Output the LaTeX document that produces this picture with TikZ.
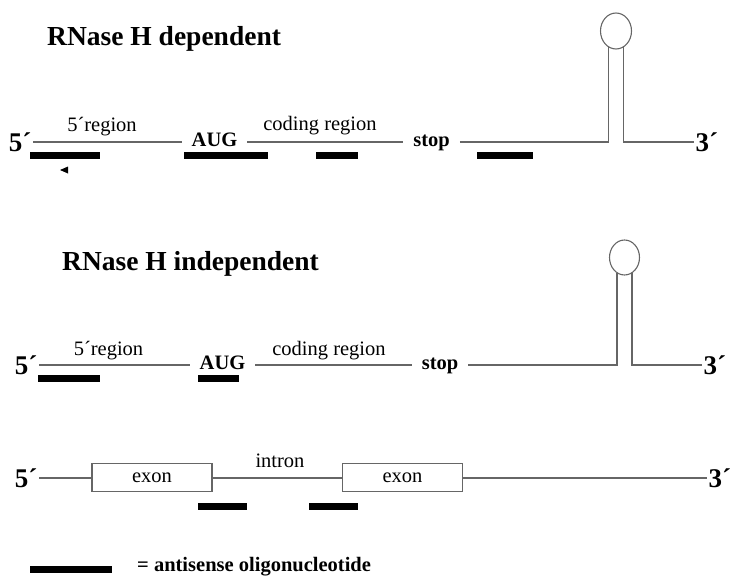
\documentclass[tikz,border=0pt]{standalone}
\usepackage{fontspec}
\setmainfont{Liberation Serif}
\usetikzlibrary{shapes}

\begin{document}
\begin{tikzpicture}[x=1pt,y=-1pt,
    strand/.style={draw=black!60, line width=1.1pt},
    oligo/.style={line width=7pt, line cap=butt},
    heading/.style={anchor=base west, inner sep=0pt, font=\fontsize{27.5}{30}\selectfont\bfseries},
    prime/.style={inner xsep=1.5pt, inner ysep=0pt, text height=19pt, text depth=0pt, font=\fontsize{27}{30}\selectfont\bfseries},
    site/.style={inner xsep=10pt, inner ysep=0pt, text height=14.5pt, text depth=5pt, font=\fontsize{20.5}{24}\selectfont\bfseries},
    region/.style={anchor=base, inner sep=0pt, font=\fontsize{20.5}{24}\selectfont},
    exonbox/.style={draw=black!60, line width=1.1pt, minimum width=120pt, minimum height=28pt, inner sep=0pt, font=\fontsize{20.5}{24}\selectfont},
    hairpin/.style={draw=black!60, line width=1.1pt, ellipse, inner sep=0pt}]
    \useasboundingbox (0,0) rectangle (735,575);

    % RNase H dependent mRNA
    \node[heading] (title1) at (47,46) {RNase H dependent};
    \node[prime, anchor=east] (five1) at (33,142) {5´};
    \node[site] (aug1) at (214.5,142) {AUG};
    \node[site] (stop1) at (431.5,142) {stop};
    \node[prime, anchor=west] (three1) at (694,142) {3´};
    \node[region] (reg1) at (102,131) {5´region};
    \node[region] (cod1) at (320,130) {coding region};
    \node[hairpin, minimum width=31pt, minimum height=36pt] (loop1) at (616,31) {};
    \coordinate (stem1a) at (608.5,47);
    \coordinate (stem1b) at (623.5,47);

    \draw[strand] (five1.east) -- (aug1.west);
    \draw[strand] (aug1.east) -- (stop1.west);
    \draw[strand] (stop1.east) -| (stem1a);
    \draw[strand] (stem1b) |- (three1.west);

    % oligos
    \draw[oligo] (30,155) -- (100,155);
    \draw[oligo] (184,155) -- (268,155);
    \draw[oligo] (316,155) -- (358,155);
    \draw[oligo] (477,155) -- (533,155);
    \fill (68,166.5) -- (60,170) -- (68,173.5) -- cycle;

    % RNase H independent mRNA
    \node[heading] (title2) at (62,270) {RNase H independent};
    \node[prime, anchor=east] (five2) at (39,365) {5´};
    \node[site] (aug2) at (222.5,365) {AUG};
    \node[site] (stop2) at (440,365) {stop};
    \node[prime, anchor=west] (three2) at (702,365) {3´};
    \node[region] (reg2) at (108.5,355) {5´region};
    \node[region] (cod2) at (329,355) {coding region};
    \node[hairpin, minimum width=30pt, minimum height=35pt] (loop2) at (624.5,257.5) {};
    \coordinate (stem2a) at (617,273);
    \coordinate (stem2b) at (632,273);

    \draw[strand] (five2.east) -- (aug2.west);
    \draw[strand] (aug2.east) -- (stop2.west);
    \draw[strand] (stop2.east) -| (stem2a);
    \draw[strand] (stem2b) |- (three2.west);

    \draw[oligo] (38,378) -- (100,378);
    \draw[oligo] (198,378) -- (239,378);

    % pre-mRNA with exons
    \node[prime, anchor=east] (five3) at (39,478) {5´};
    \node[exonbox] (exon1) at (152,477.5) {exon};
    \node[exonbox] (exon2) at (402.5,477.5) {exon};
    \node[prime, anchor=west] (three3) at (707,478) {3´};
    \node[region] (intron) at (280,467) {intron};

    \draw[strand] (five3.east) -- (five3.east -| exon1.west);
    \draw[strand] (exon1.east |- five3.east) -- (exon2.west |- five3.east);
    \draw[strand] (exon2.east |- five3.east) -- (three3.west);

    \draw[oligo] (198,506) -- (247,506);
    \draw[oligo] (309,506) -- (358,506);

    % key
    \draw[oligo] (30,569) -- (112,569);
    \node[anchor=base west, inner sep=0pt, font=\fontsize{20.5}{24}\selectfont\bfseries] (key) at (137,571) {= antisense oligonucleotide};
\end{tikzpicture}
\end{document}
